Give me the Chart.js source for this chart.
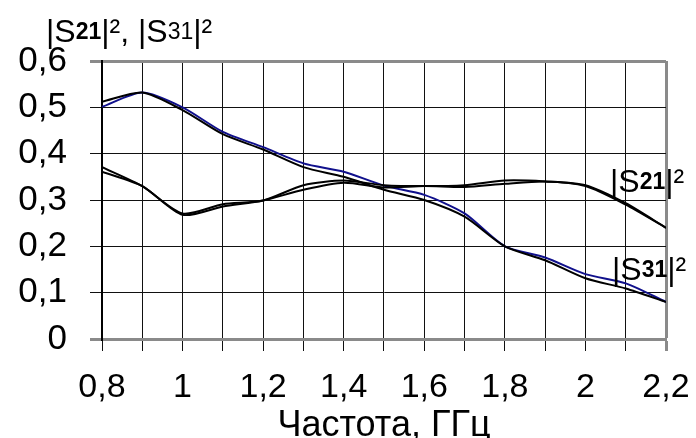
<!DOCTYPE html>
<html>
<head>
<meta charset="utf-8">
<script src="https://cdn.jsdelivr.net/npm/chart.js@4.4.1/dist/chart.umd.min.js"></script>
<style>
  html, body { margin: 0; padding: 0; background: #fff; }
  canvas { display: block; }
</style>
</head>
<body>
<canvas id="c" width="696" height="438"></canvas>
<script>
// Frequency points, GHz
const freq = [0.8, 0.9, 1.0, 1.1, 1.2, 1.3, 1.4, 1.5, 1.6, 1.7, 1.8, 1.9, 2.0, 2.1, 2.2];

// |S31|^2 — two measurements (black and blue traces)
const s31Black = [0.512, 0.532, 0.494, 0.442, 0.409, 0.371, 0.350, 0.322, 0.300, 0.264, 0.200, 0.170, 0.131, 0.109, 0.080];
const s31Blue  = [0.501, 0.532, 0.500, 0.447, 0.414, 0.379, 0.361, 0.331, 0.311, 0.271, 0.200, 0.176, 0.140, 0.120, 0.080];

// |S21|^2 — two measurements (both black)
const s21First  = [0.371, 0.330, 0.271, 0.291, 0.299, 0.332, 0.342, 0.332, 0.330, 0.332, 0.342, 0.340, 0.332, 0.293, 0.240];
const s21Second = [0.361, 0.330, 0.268, 0.286, 0.299, 0.322, 0.337, 0.327, 0.330, 0.328, 0.335, 0.340, 0.330, 0.290, 0.240];

// Axis tick labels
const xTickLabels = ['0,8', '1', '1,2', '1,4', '1,6', '1,8', '2', '2,2'];
const yTickLabels = ['0', '0,1', '0,2', '0,3', '0,4', '0,5', '0,6'];

const FONT = '"Liberation Sans", Arial, Helvetica, sans-serif';
const FRAME = '#8a8a8a';

const pts = arr => freq.map((f, i) => ({ x: f, y: arr[i] }));

// Text runs with mixed sizes / weights (|S21|² etc.)
function drawRuns(ctx, x, y, runs) {
  let cx = x;
  for (const r of runs) {
    ctx.font = (r.bold ? 'bold ' : '') + r.size + 'px ' + FONT;
    ctx.fillText(r.t, cx, y + (r.dy || 0));
    cx += ctx.measureText(r.t).width;
  }
}
const sParam = (digits, boldDigits, size) => [
  { t: '|S', size: size },
  { t: digits, size: Math.round(size * 0.72), bold: boldDigits, dy: -3 },
  { t: '|²', size: size }
];
const annotations = [
  { x: 46, y: 42, runs: [...sParam('21', true, 32), { t: ', ', size: 32 }, ...sParam('31', false, 32)] },
  { x: 610, y: 192, runs: sParam('21', true, 32) },
  { x: 612, y: 280, runs: sParam('31', true, 32) }
];

const richLabels = {
  id: 'richLabels',
  afterDraw(chart) {
    const ctx = chart.ctx;
    ctx.save();
    ctx.fillStyle = '#000';
    ctx.textAlign = 'left';
    ctx.textBaseline = 'alphabetic';
    for (const a of annotations) drawRuns(ctx, a.x, a.y, a.runs);
    ctx.restore();
  }
};

const line = (data, color) => ({
  data: pts(data),
  borderColor: color,
  borderWidth: 2,
  pointRadius: 0,
  fill: false,
  tension: 0.25
});

new Chart(document.getElementById('c'), {
  type: 'line',
  data: {
    datasets: [
      line(s21First, '#000'),
      line(s21Second, '#000'),
      line(s31Black, '#000'),
      line(s31Blue, '#10108c')
    ]
  },
  options: {
    responsive: false,
    animation: false,
    layout: { padding: { top: 61, right: 30, left: 0, bottom: 0 } },
    plugins: { legend: { display: false }, tooltip: { enabled: false } },
    scales: {
      x: {
        type: 'linear',
        min: 0.8,
        max: 2.2,
        afterFit: s => { s.height = 99; s.paddingLeft = 0; s.paddingRight = 0; },
        border: { display: true, color: FRAME, width: 3 },
        grid: {
          color: c => c.index === 14 ? FRAME : '#111',
          lineWidth: c => c.index === 14 ? 3 : 1,
          tickColor: c => c.index === 14 ? FRAME : '#111',
          tickWidth: c => c.index === 14 ? 3 : 1,
          tickLength: 12
        },
        ticks: {
          stepSize: 0.1,
          autoSkip: false,
          maxRotation: 0,
          padding: 16,
          color: '#000',
          font: { family: FONT, size: 34 },
          callback: (v, i) => i % 2 === 0 ? xTickLabels[i / 2] : ''
        },
        title: {
          display: true,
          text: 'Частота, ГГц',
          color: '#000',
          font: { family: FONT, size: 36, lineHeight: 0.66 },
          padding: { top: 0, bottom: 0 }
        }
      },
      y: {
        min: 0,
        max: 0.6,
        afterFit: s => { s.width = 102; s.paddingTop = 0; s.paddingBottom = 0; },
        border: { display: true, color: '#000', width: 2 },
        grid: {
          color: c => (c.index === 0 || c.index === 6) ? FRAME : '#111',
          lineWidth: c => (c.index === 0 || c.index === 6) ? 3 : 1,
          tickColor: c => (c.index === 0 || c.index === 6) ? FRAME : '#111',
          tickWidth: c => (c.index === 0 || c.index === 6) ? 3 : 1,
          tickLength: 12
        },
        ticks: {
          stepSize: 0.1,
          padding: 23,
          color: '#000',
          font: { family: FONT, size: 35 },
          callback: (v, i) => yTickLabels[i]
        }
      }
    }
  },
  plugins: [richLabels]
});
</script>
</body>
</html>
